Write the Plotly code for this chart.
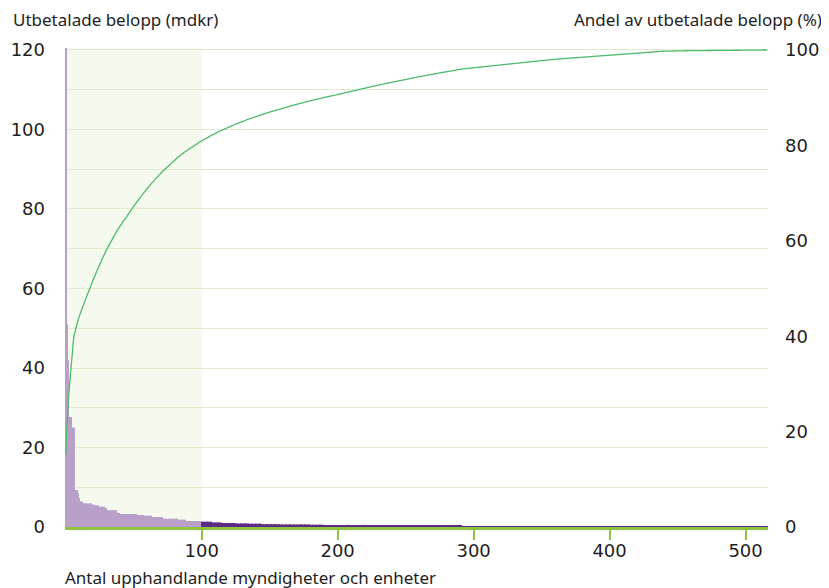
import plotly.graph_objects as go
import numpy as np

# Utbetalade belopp (mdkr) per upphandlande myndighet, sorterat fallande.
# Avläst som (värde, antal staplar i rad med ungefär samma höjd)
belopp_steg = [
    (121, 1), (51, 1), (42, 1), (27.7, 2), (25, 2), (9.3, 2), (8.5, 1),
    (7.3, 1), (6.4, 2), (6.0, 2), (5.9, 5), (5.6, 2), (5.4, 3), (5.1, 4),
    (4.8, 2), (4.2, 7), (3.6, 2), (3.3, 13), (3.0, 5), (2.8, 6), (2.5, 8),
    (2.1, 11), (1.8, 6), (1.5, 11),
    (1.3, 8), (1.15, 7), (1.0, 10), (0.9, 10), (0.8, 10), (0.7, 12),
    (0.65, 12), (0.6, 11), (0.55, 10), (0.5, 10),
    (0.53, 30), (0.47, 32), (0.41, 30),
    (0.24, 68), (0.17, 80), (0.05, 20), (0.02, 57),
]
antal_markerade = 100  # de största myndigheterna, markerat område

x_tickvals = [100, 200, 300, 400, 500]
y_tickvals = [0, 20, 40, 60, 80, 100, 120]
y2_tickvals = [0, 20, 40, 60, 80, 100]

belopp = np.concatenate([[v] * n for v, n in belopp_steg])
nr = np.arange(len(belopp))
andel = np.cumsum(belopp) / belopp.sum() * 100

ljuslila = "#b8a0c8"
morklila = "#5b2a84"
gron = "#8cc43f"
farger = [ljuslila if i < antal_markerade else morklila for i in nr]

fig = go.Figure()
fig.add_trace(go.Bar(x=nr, y=belopp, marker=dict(color=farger, line_width=0),
                     showlegend=False, hoverinfo="x+y"))
fig.add_trace(go.Scatter(x=nr, y=andel, yaxis="y2", mode="lines",
                         line=dict(color="#4dbb6c", width=1.3, shape="spline",
                                   smoothing=0.6),
                         showlegend=False))

fig.add_shape(type="rect", xref="x", yref="paper", x0=-0.5, x1=antal_markerade,
              y0=0, y1=1, fillcolor="#f5f9ee", line_width=0, layer="below")

tick_font = dict(family="DejaVu Sans", size=18, color="#1e1e1e")
title_font = dict(family="Noto Sans", size=17, color="#1e1e1e")

# sidan har 8 px marginal i webbläsaren, därför 821x580
fig.update_layout(
    width=821, height=580,
    margin=dict(l=57, r=61, t=40, b=61),
    plot_bgcolor="white", paper_bgcolor="white",
    bargap=0.2,
    xaxis=dict(range=[-0.5, 516.5], tickvals=x_tickvals, ticks="outside",
               ticklen=10, tickwidth=1.5, tickcolor=gron, showgrid=False,
               zeroline=False, showline=True, linecolor=gron, linewidth=2.5,
               tickfont=tick_font, automargin=False, ticklabelstandoff=-4),
    yaxis=dict(range=[0, 120.5], tickvals=y_tickvals, showgrid=True,
               gridcolor="#e2ebd0", gridwidth=1, zeroline=False,
               minor=dict(dtick=10, showgrid=True, gridcolor="#e2ebd0"),
               ticks="", ticklabelstandoff=19, tickfont=tick_font,
               automargin=False),
    yaxis2=dict(range=[0, 100.4167], tickvals=y2_tickvals, overlaying="y",
                side="right", showgrid=False, zeroline=False, ticks="",
                ticklabelstandoff=16, tickfont=tick_font, automargin=False),
    annotations=[
        dict(text="Utbetalade belopp (mdkr)", xref="paper", yref="paper",
             x=-0.077, y=1.0605, xanchor="left", yanchor="middle",
             showarrow=False, font=title_font),
        dict(text="Andel av utbetalade belopp (%)", xref="paper", yref="paper",
             x=1.08, y=1.0605, xanchor="right", yanchor="middle",
             showarrow=False, font=title_font),
        dict(text="Antal upphandlande myndigheter och enheter", xref="paper",
             yref="paper", x=-0.003, y=-0.1044, xanchor="left",
             yanchor="middle", showarrow=False, font=title_font),
    ],
)

fig.write_html("out.html")
